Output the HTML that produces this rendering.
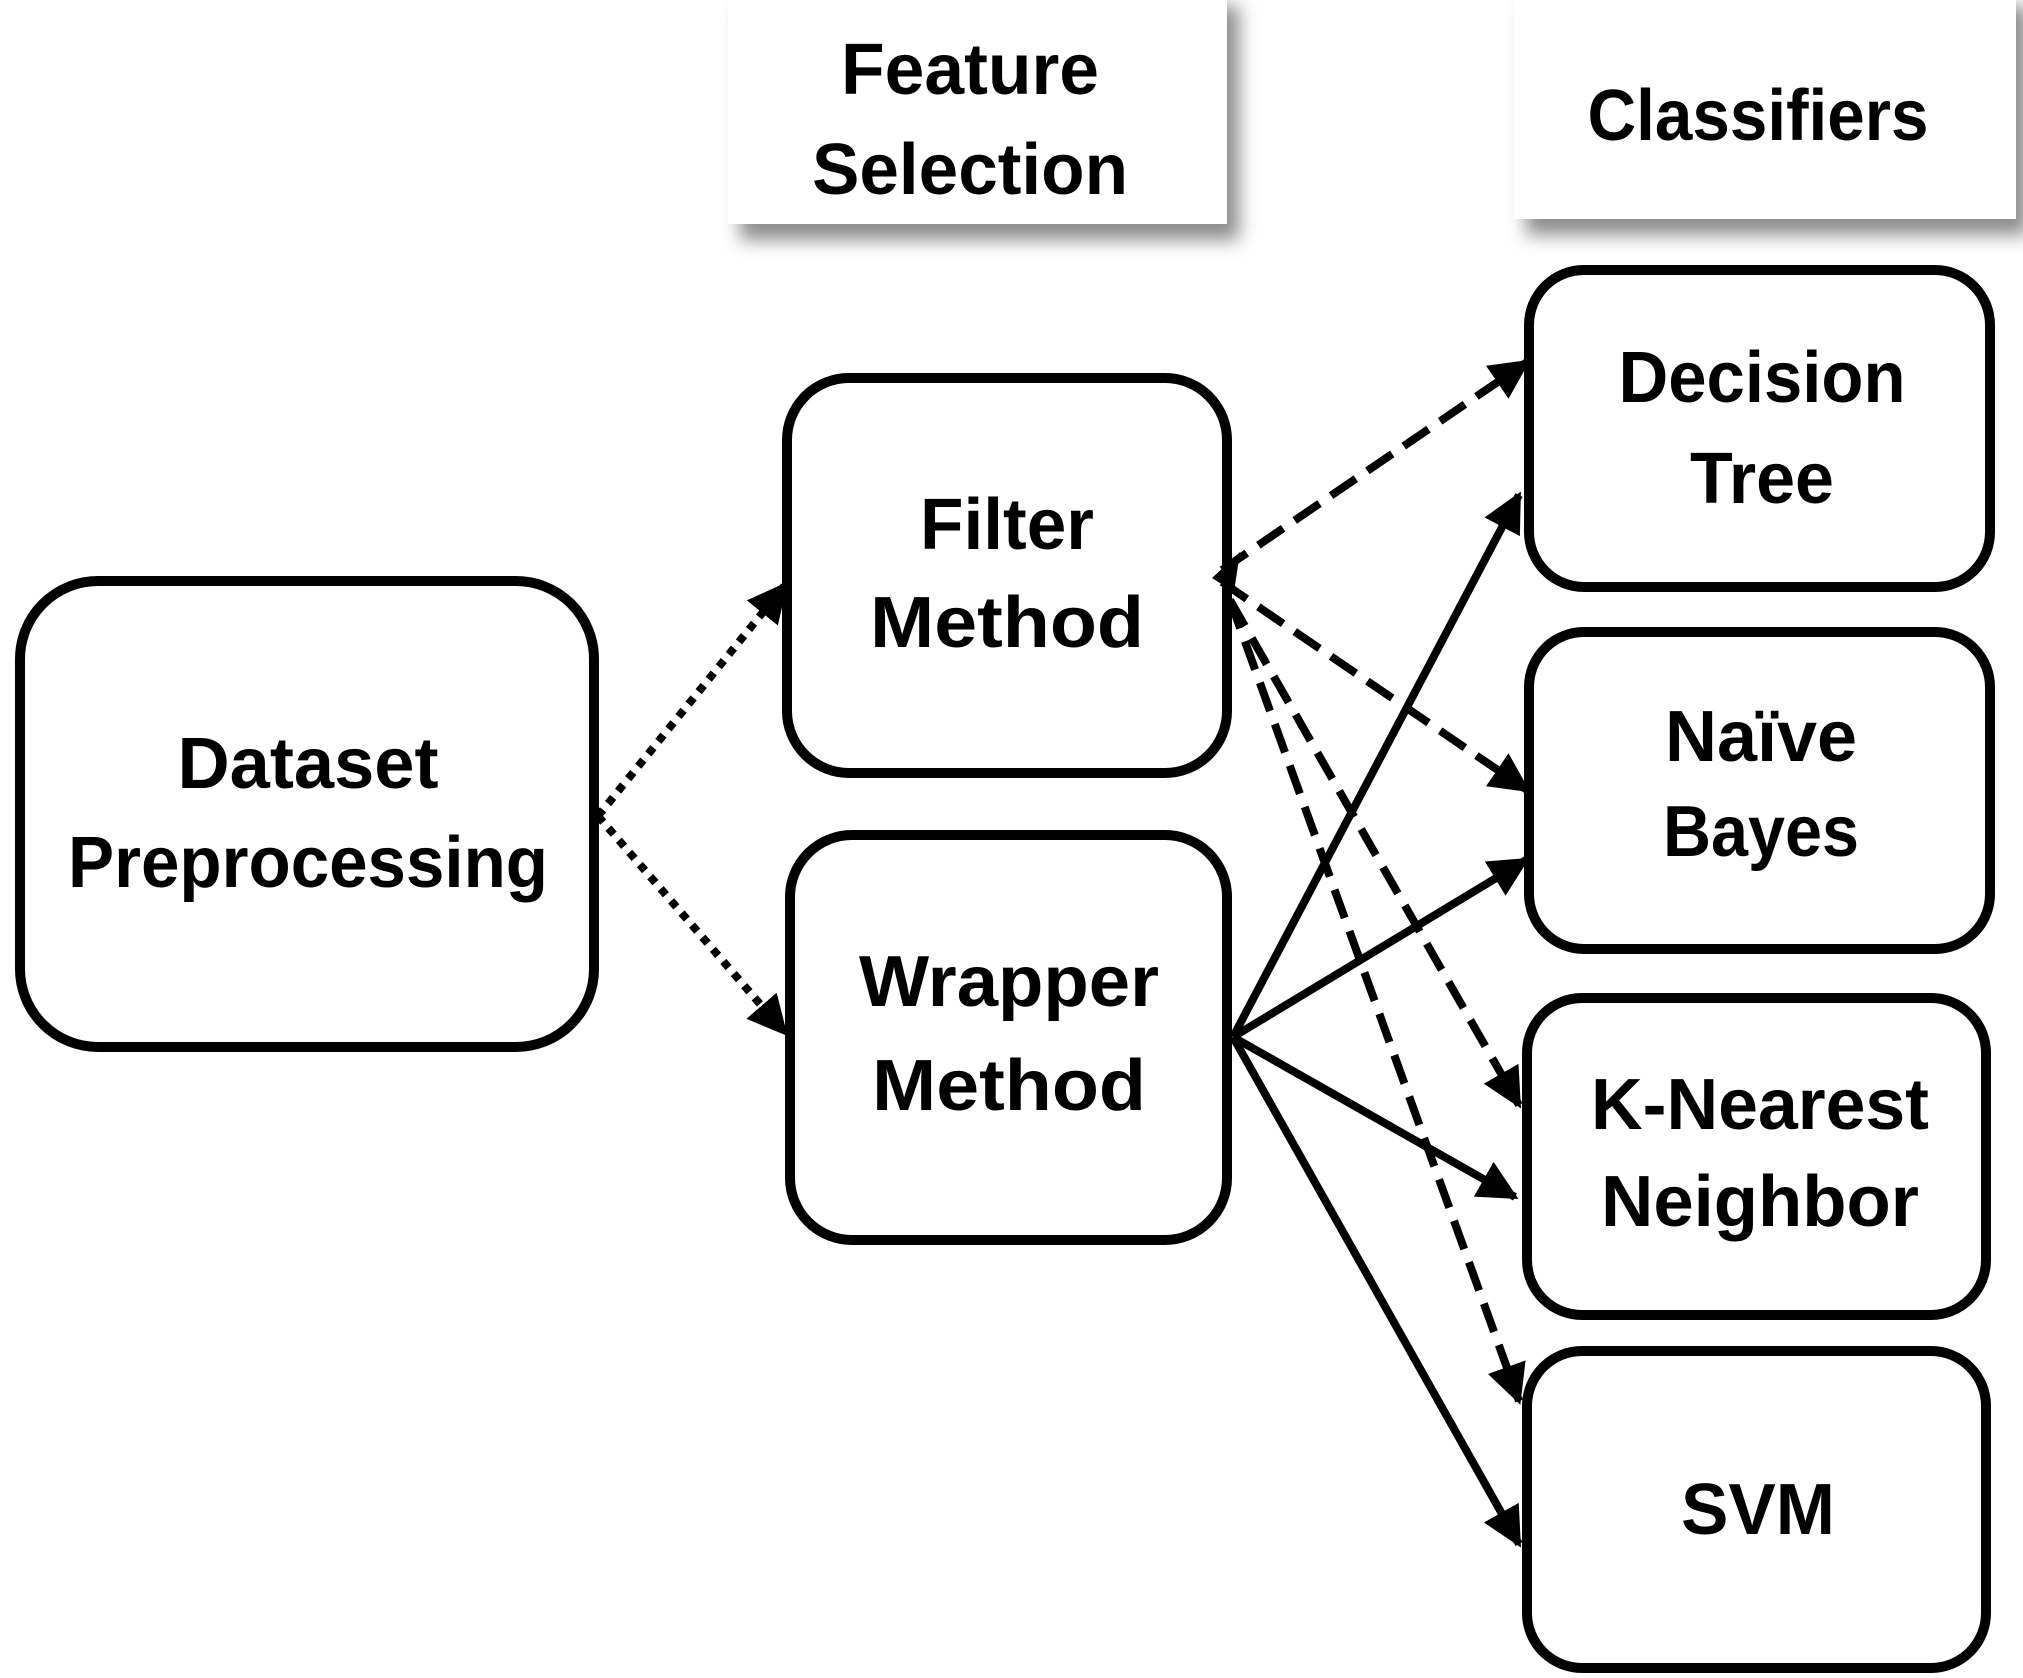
<!DOCTYPE html>
<html><head><meta charset="utf-8"><style>
html,body{margin:0;padding:0;background:#fff;}
svg{display:block;}
text{font-family:"Liberation Sans",sans-serif;font-weight:bold;font-size:72px;fill:#000;text-anchor:middle;}
</style></head><body>
<svg width="2023" height="1678" viewBox="0 0 2023 1678" xmlns="http://www.w3.org/2000/svg">
<defs>
<filter id="sh" x="-20%" y="-20%" width="150%" height="150%">
<feDropShadow dx="12" dy="16" stdDeviation="9" flood-color="#000" flood-opacity="0.45"/>
</filter>
<marker id="ah" viewBox="0 0 10 10" refX="9" refY="5" markerWidth="5" markerHeight="5" markerUnits="strokeWidth" orient="auto">
<path d="M0,0 L10,5 L0,10 z" fill="#000"/>
</marker>
</defs>
<rect x="728" y="-10" width="499" height="234" fill="#fff" filter="url(#sh)"/>
<rect x="1514" y="-10" width="502" height="229" fill="#fff" filter="url(#sh)"/>
<text x="970" y="94" textLength="258" lengthAdjust="spacingAndGlyphs">Feature</text>
<text x="970" y="194" textLength="316" lengthAdjust="spacingAndGlyphs">Selection</text>
<text x="1758" y="140" textLength="341" lengthAdjust="spacingAndGlyphs">Classifiers</text>

<g fill="none" stroke="#000" stroke-width="10">
<rect x="20" y="581" width="574" height="466" rx="78"/>
<rect x="787" y="378" width="440" height="395" rx="62"/>
<rect x="790" y="835" width="437" height="405" rx="62"/>
<rect x="1529" y="270" width="461" height="317" rx="55"/>
<rect x="1529" y="632" width="461" height="317" rx="55"/>
<rect x="1527" y="998" width="459" height="317" rx="55"/>
<rect x="1527" y="1351" width="459" height="317" rx="55"/>
</g>

<g stroke="#000" stroke-width="8" fill="none">
<line x1="598" y1="816" x2="785" y2="585" stroke-dasharray="8 8" marker-end="url(#ah)"/>
<line x1="598" y1="816" x2="785" y2="1033" stroke-dasharray="8 8" marker-end="url(#ah)"/>
<line x1="1222" y1="570" x2="1527" y2="362" stroke-dasharray="30 14" marker-end="url(#ah)"/>
<line x1="1222" y1="582" x2="1527" y2="790" stroke-dasharray="30 14" marker-end="url(#ah)"/>
<line x1="1230" y1="600" x2="1519" y2="1105" stroke-dasharray="30 14" marker-end="url(#ah)"/>
<line x1="1230" y1="600" x2="1519" y2="1401" stroke-dasharray="30 14" marker-end="url(#ah)"/>
<line x1="1233" y1="1037" x2="1519" y2="495" marker-end="url(#ah)"/>
<line x1="1233" y1="1037" x2="1526" y2="860" marker-end="url(#ah)"/>
<line x1="1233" y1="1037" x2="1515" y2="1197" marker-end="url(#ah)"/>
<line x1="1233" y1="1037" x2="1519" y2="1544" marker-end="url(#ah)"/>
</g>
<path d="M1212,578 L1240,552 L1234,592 z" fill="#000"/>

<text x="308" y="788" textLength="261" lengthAdjust="spacingAndGlyphs">Dataset</text>
<text x="308" y="887" textLength="480" lengthAdjust="spacingAndGlyphs">Preprocessing</text>
<text x="1007" y="549" textLength="174" lengthAdjust="spacingAndGlyphs">Filter</text>
<text x="1007" y="647" textLength="274" lengthAdjust="spacingAndGlyphs">Method</text>
<text x="1009" y="1006" textLength="300" lengthAdjust="spacingAndGlyphs">Wrapper</text>
<text x="1009" y="1110" textLength="274" lengthAdjust="spacingAndGlyphs">Method</text>
<text x="1762" y="402" textLength="287" lengthAdjust="spacingAndGlyphs">Decision</text>
<text x="1762" y="503" textLength="144" lengthAdjust="spacingAndGlyphs">Tree</text>
<text x="1761" y="761" textLength="192" lengthAdjust="spacingAndGlyphs">Naïve</text>
<text x="1761" y="856" textLength="196" lengthAdjust="spacingAndGlyphs">Bayes</text>
<text x="1760" y="1129" textLength="338" lengthAdjust="spacingAndGlyphs">K-Nearest</text>
<text x="1760" y="1226" textLength="318" lengthAdjust="spacingAndGlyphs">Neighbor</text>
<text x="1758" y="1534" textLength="154" lengthAdjust="spacingAndGlyphs">SVM</text>
</svg>
</body></html>
